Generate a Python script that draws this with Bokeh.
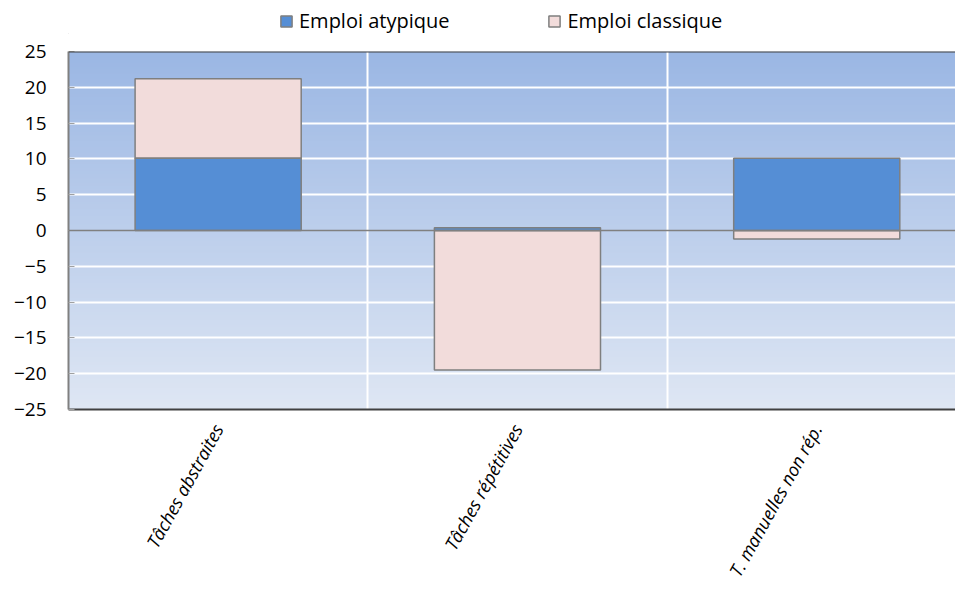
import numpy as np
from bokeh.plotting import figure
from bokeh.layouts import column
from bokeh.models import (Range1d, FixedTicker, Legend, LegendItem, Span,
                          ColumnDataSource)
from bokeh.embed import file_html
from bokeh.resources import INLINE

# ---- data ----
categories = ["Tâches abstraites", "Tâches répétitives", "T. manuelles non rép."]
series_names = ["Emploi atypique", "Emploi classique"]
atypique = [10.1, 0.4, 10.1]
classique = [11.1, -19.5, -1.2]
y_ticks = [-25, -20, -15, -10, -5, 0, 5, 10, 15, 20, 25]
y_lo, y_hi = -25, 25

FONT = "Open Sans"
C_ATYP = "#558ED5"
C_CLAS = "#F2DCDB"
C_EDGE = "#7F7F7F"

x_pos = [i + 0.5 for i in range(len(categories))]
# Excel-like stacking: positives stack above positives, negatives below negatives
a_bottom, a_top, c_bottom, c_top = [], [], [], []
for a, c in zip(atypique, classique):
    pos, neg = 0.0, 0.0
    if a >= 0:
        a_bottom.append(pos); a_top.append(pos + a); pos += a
    else:
        a_bottom.append(neg); a_top.append(neg + a); neg += a
    if c >= 0:
        c_bottom.append(pos); c_top.append(pos + c); pos += c
    else:
        c_bottom.append(neg); c_top.append(neg + c); neg += c

W = 955
B_LEFT = 68
MAIN_TOP = 17
LEG_H = 34
frame_h = 358
frame_w = W - B_LEFT
cat_px = 299.3
x_end = frame_w / cat_px

# ---------- legend strip ----------
leg = figure(width=W, height=LEG_H, output_backend="svg", toolbar_location=None,
             x_axis_type=None, y_axis_type=None,
             x_range=Range1d(0, 1), y_range=Range1d(0, 1),
             min_border_left=0, min_border_right=0, min_border_top=0,
             min_border_bottom=0)
leg.outline_line_color = None
leg.background_fill_color = None
leg.border_fill_color = "white"
leg.xgrid.visible = False
leg.ygrid.visible = False
# swatch sources for the legend (placed outside the strip's visible range)
swatch = ColumnDataSource(dict(x=[-5], top=[0]))
la = leg.vbar(x="x", top="top", width=0.1, source=swatch,
              fill_color=C_ATYP, line_color=C_EDGE, line_width=1.5)
lc = leg.vbar(x="x", top="top", width=0.1, source=swatch,
              fill_color=C_CLAS, line_color=C_EDGE, line_width=1.5)
legend = Legend(items=[LegendItem(label=series_names[0], renderers=[la]),
                       LegendItem(label=series_names[1], renderers=[lc])],
                orientation="horizontal", location=(211, 0),
                padding=0, margin=0, spacing=98, label_standoff=6,
                glyph_width=14, glyph_height=14, label_height=20,
                label_text_font=FONT, label_text_font_size="20px",
                label_text_color="black", background_fill_alpha=0,
                border_line_color=None)
leg.add_layout(legend, "center")

# ---------- main chart ----------
p = figure(frame_width=frame_w, frame_height=frame_h,
           output_backend="svg", toolbar_location=None,
           x_range=Range1d(0, x_end), y_range=Range1d(y_lo, y_hi),
           min_border_left=B_LEFT, min_border_right=0, min_border_top=MAIN_TOP,
           min_border_bottom=0)
p.outline_line_color = None
p.background_fill_color = None
p.border_fill_color = "white"

# gradient plot background
n = 256
t = np.linspace(0, 1, n)[:, None]  # 0 bottom -> 1 top
top_c = np.array([155, 183, 228])
bot_c = np.array([223, 231, 244])
rgb = (bot_c * (1 - t) + top_c * t).astype(np.uint32)
img = np.empty((n, 1), dtype=np.uint32)
view = img.view(dtype=np.uint8).reshape((n, 1, 4))
view[:, :, 0] = rgb[:, 0:1]
view[:, :, 1] = rgb[:, 1:2]
view[:, :, 2] = rgb[:, 2:3]
view[:, :, 3] = 255
bg = p.image_rgba(image=[img], x=0, y=y_lo, dw=x_end, dh=y_hi - y_lo)
bg.level = "image"

src = ColumnDataSource(dict(x=x_pos, a_bottom=a_bottom, a_top=a_top,
                            c_bottom=c_bottom, c_top=c_top))
bw = 0.555
p.vbar(x="x", bottom="c_bottom", top="c_top", width=bw, source=src,
       fill_color=C_CLAS, line_color=C_EDGE, line_width=1.5)
p.vbar(x="x", bottom="a_bottom", top="a_top", width=bw, source=src,
       fill_color=C_ATYP, line_color=C_EDGE, line_width=1.5)

# zero line and top border
p.add_layout(Span(location=0, dimension="width", line_color="#808080", line_width=1.5))
p.add_layout(Span(location=y_hi, dimension="width", line_color="#404040", line_width=2))

# grids
p.ygrid.ticker = FixedTicker(ticks=[v for v in y_ticks if v not in (0, y_lo, y_hi)])
p.ygrid.grid_line_color = "white"
p.ygrid.grid_line_width = 2
p.xgrid.ticker = FixedTicker(ticks=list(range(1, len(categories))))
p.xgrid.grid_line_color = "white"
p.xgrid.grid_line_width = 2

# y axis
p.yaxis.ticker = FixedTicker(ticks=y_ticks)
p.yaxis.axis_line_color = "#808080"
p.yaxis.axis_line_width = 2
p.yaxis.major_tick_in = 6
p.yaxis.major_tick_out = 0
p.yaxis.major_tick_line_color = "#A0A0A0"
p.yaxis.minor_tick_line_color = None
p.yaxis.major_label_text_font = FONT
p.yaxis.major_label_text_font_size = "19px"
p.yaxis.major_label_text_color = "black"
p.yaxis.major_label_standoff = 22

# x axis
p.xaxis.ticker = FixedTicker(ticks=x_pos)
p.xaxis.major_label_overrides = {x: c for x, c in zip(x_pos, categories)}
p.xaxis.axis_line_color = "#404040"
p.xaxis.axis_line_width = 2
p.xaxis.major_tick_line_color = None
p.xaxis.minor_tick_line_color = None
p.xaxis.major_label_orientation = np.deg2rad(61)
p.xaxis.major_label_text_font = FONT
p.xaxis.major_label_text_font_style = "italic"
p.xaxis.major_label_text_font_size = "18px"
p.xaxis.major_label_text_color = "black"
p.xaxis.major_label_standoff = 10

layout = column(leg, p, spacing=0)
open("out.html", "w").write(file_html(layout, INLINE))
